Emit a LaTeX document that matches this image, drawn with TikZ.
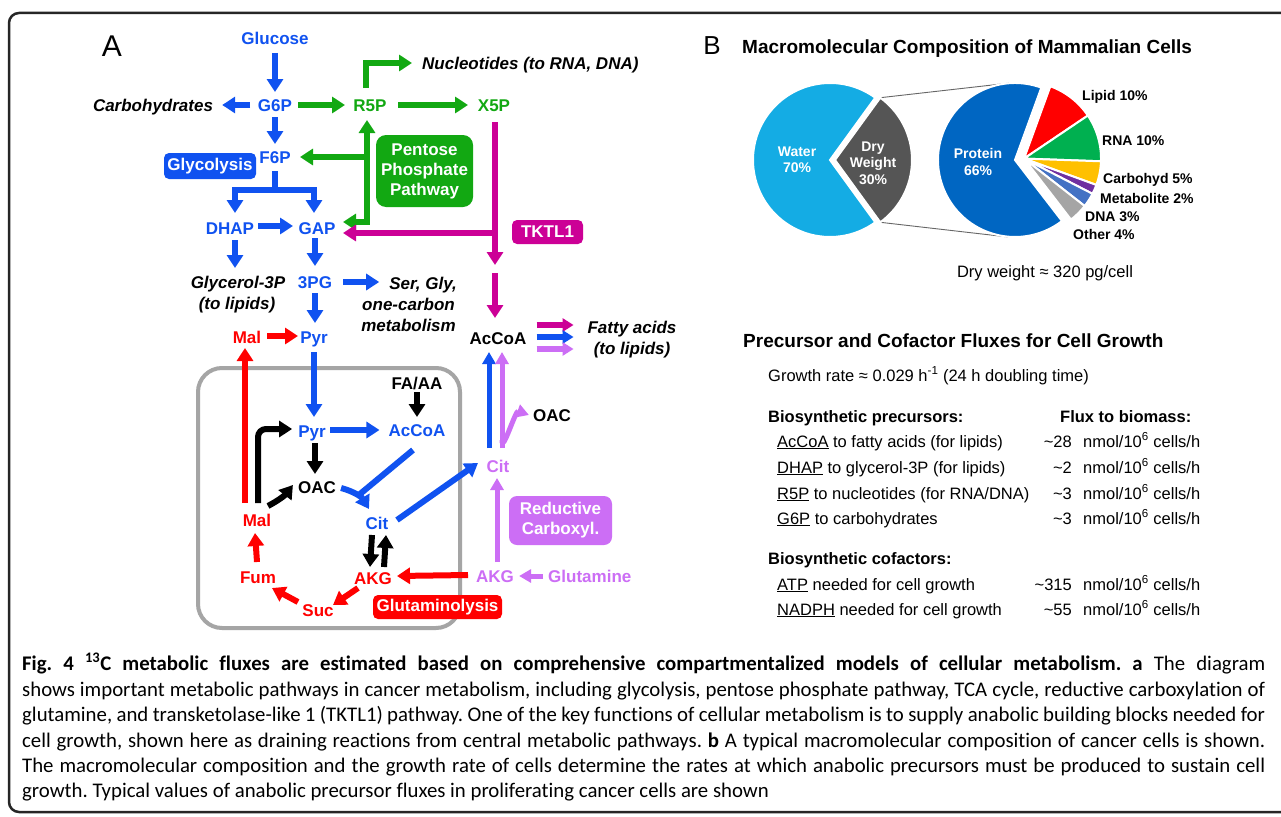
\documentclass[tikz,border=0pt]{standalone}
\usepackage{fontspec}
\setmainfont{Liberation Sans}
\newfontfamily\capfont[Ligatures=NoCommon]{Carlito}
\usetikzlibrary{arrows.meta,calc}
\definecolor{cblue}{RGB}{16,82,240}
\definecolor{cgreen}{RGB}{18,168,18}
\definecolor{cmag}{RGB}{204,0,150}
\definecolor{cred}{RGB}{255,0,0}
\definecolor{cpur}{RGB}{204,110,245}
\definecolor{cgray}{RGB}{165,165,165}
\definecolor{water}{RGB}{20,172,228}
\definecolor{dry}{RGB}{85,85,85}
\definecolor{prot}{RGB}{0,102,194}
\definecolor{rna}{RGB}{0,176,80}
\definecolor{carbc}{RGB}{255,192,0}
\definecolor{metab}{RGB}{112,48,160}
\definecolor{dnac}{RGB}{68,114,196}
\definecolor{otherc}{RGB}{165,165,165}
\frenchspacing
\begin{document}
\begin{tikzpicture}[x=1pt,y=-1pt,
  lbl/.style={inner sep=0pt, font={\fontsize{17pt}{20pt}\selectfont\bfseries}, text height=12.3pt, text depth=0pt},
  itl/.style={inner sep=0pt, font={\fontsize{17pt}{20pt}\selectfont\bfseries\itshape}, text height=12.3pt, text depth=0pt},
  ar/.style={line width=6pt, -{Triangle[width=16pt,length=13pt]}},
  ar2/.style={line width=5pt, -{Triangle[width=13pt,length=12pt]}},
  ar3/.style={line width=6pt, -{Triangle[width=13pt,length=11pt]}},
  ln/.style={line width=6pt},
  pbox/.style={inner sep=0pt, rounded corners=5pt, text=white, font={\fontsize{17pt}{20pt}\selectfont\bfseries}, align=center},
  tx/.style={inner sep=0pt, anchor=base west, font={\fontsize{16.5pt}{19pt}\selectfont}},
  txb/.style={inner sep=0pt, anchor=base west, font={\fontsize{16.5pt}{19pt}\selectfont\bfseries}},
  val/.style={inner sep=0pt, anchor=base east, font={\fontsize{16.5pt}{19pt}\selectfont}},
  pl/.style={inner sep=0pt, anchor=base west, font={\fontsize{14pt}{16pt}\selectfont\bfseries}},
  pw/.style={inner sep=0pt, text=white, align=center, font={\fontsize{14pt}{16.5pt}\selectfont\bfseries}},
  captxt/.style={inner sep=0pt, anchor=base west, font={\capfont\fontsize{20.8pt}{24pt}\selectfont}},
  slice/.style={draw=white, line width=2pt}
]
\useasboundingbox (0,0) rectangle (1281,816);
\clip (0,0) rectangle (1281,816);
\fill[white] (0,0) rectangle (1281,816);
% outer frame
\draw[line width=2.5pt, rounded corners=10pt, black!85] (9,13) rectangle (1300,812);

% ---------- Panel A ----------
\node[inner sep=0pt, font={\fontsize{30pt}{30pt}\selectfont}] (lA) at (112,46) {A};
\draw[cgray, line width=4pt, rounded corners=24pt] (198,368) rectangle (460,628);

\node[lbl,text=cblue] (glc) at (275,38) {Glucose};
\node[lbl,text=cblue] (g6p) at (275,105) {G6P};
\node[itl] (carb) at (153,105) {Carbohydrates};
\node[lbl,text=cgreen] (r5p) at (370,105) {R5P};
\node[lbl,text=cgreen] (x5p) at (494,105) {X5P};
\node[itl,anchor=west] (nuc) at (422,63) {Nucleotides (to RNA, DNA)};
\node[lbl,text=cblue] (f6p) at (275,157) {F6P};
\node[pbox,fill=cblue,minimum width=92pt,minimum height=26pt] (glyb) at (210,166) {Glycolysis};
\node[pbox,fill=cgreen,minimum width=97pt,minimum height=72pt,rounded corners=10pt] (pppb) at (424.5,171) {Pentose\\Phosphate\\Pathway};
\node[lbl,text=cblue] (dhap) at (230,228) {DHAP};
\node[lbl,text=cblue] (gap) at (317,228) {GAP};
\node[pbox,fill=cmag,minimum width=71pt,minimum height=24pt] (tktb) at (547.5,232) {TKTL1};
\node[itl] (g3p) at (238,282) {Glycerol-3P};
\node[itl] (g3pb) at (237,303) {(to lipids)};
\node[lbl,text=cblue] (pg3) at (315,282) {3PG};
\node[itl,anchor=east] (ser1) at (457,283) {Ser, Gly,};
\node[itl,anchor=east] (ser2) at (455,304) {one-carbon};
\node[itl,anchor=east] (ser3) at (456,325) {metabolism};
\node[lbl,text=cred] (mal1) at (247,337) {Mal};
\node[lbl,text=cblue] (pyr1) at (314,337) {Pyr};
\node[lbl] (acoa1) at (498,338) {AcCoA};
\node[itl] (fa1) at (632,327) {Fatty acids};
\node[itl] (fa2) at (632,348) {(to lipids)};
\node[lbl] (faaa) at (417,383) {FA/AA};
\node[lbl,text=cblue] (pyr2) at (312,431) {Pyr};
\node[lbl,text=cblue] (acoa2) at (417,430) {AcCoA};
\node[lbl] (oac2) at (317,487) {OAC};
\node[lbl] (oac1) at (552,415) {OAC};
\node[lbl,text=cpur] (cit1) at (498,466) {Cit};
\node[pbox,fill=cpur,minimum width=103pt,minimum height=49pt,rounded corners=8pt] (redb) at (560.5,520.5) {Reductive\\Carboxyl.};
\node[lbl,text=cred] (mal2) at (257,520) {Mal};
\node[lbl,text=cblue] (cit2) at (377,523) {Cit};
\node[lbl,text=cred] (fum) at (258,577) {Fum};
\node[lbl,text=cred] (akg2) at (373,578) {AKG};
\node[lbl,text=cred] (suc) at (318,610) {Suc};
\node[lbl,text=cpur] (akg1) at (495,576) {AKG};
\node[lbl,text=cpur,anchor=west] (gln) at (548,576) {Glutamine};
\node[pbox,fill=cred,minimum width=129pt,minimum height=24pt] (glub) at (437.5,607) {Glutaminolysis};

% glycolysis arrows
\draw[ar,cblue] ($(glc)+(0,15)$) -- ($(g6p)+(0,-13)$);
\draw[ar,cblue] ($(g6p)+(-25,0)$) -- ($(carb.east)+(9,0)$);
\draw[ar,cblue] ($(g6p)+(0,12)$) -- ($(f6p)+(0,-13)$);
\coordinate (fsplit) at ($(f6p)+(0,33)$);
\draw[ln,cblue] ($(f6p)+(0,14)$) -- (fsplit);
\draw[ar,cblue] (fsplit) -| ($(dhap)+(5,-15)$);
\draw[ar,cblue] (fsplit) -| ($(gap)+(-3,-15)$);
\draw[ar,cblue] ($(dhap)+(28,-2)$) -- ($(gap)+(-24,-2)$);
\draw[ar,cblue] ($(dhap)+(5,12)$) -- ($(g3p)+(-3,-14)$);
\draw[ar,cblue] ($(gap)+(-2,10)$) -- ($(pg3)+(0,-16)$);
\draw[ar,cblue] ($(pg3)+(28,0)$) -- ($(ser1.west)+(-10,-1)$);
\draw[ar,cblue] ($(pg3)+(0,11)$) -- ($(pyr1)+(1,-14)$);
\draw[ar,cred] ($(mal1)+(20,-1)$) -- ($(pyr1)+(-16,-1)$);

% pentose phosphate arrows
\draw[ar,cgreen] ($(g6p)+(23,0)$) -- ($(r5p)+(-25,0)$);
\draw[ar,cgreen] ($(r5p)+(28,0)$) -- ($(x5p)+(-26,0)$);
\draw[ar,cgreen] ($(r5p)+(-4,-17)$) |- ($(nuc.west)+(-10,0)$);
\draw[line width=6pt,cgreen,{Triangle[width=16pt,length=13pt]}-{Triangle[width=16pt,length=13pt]}] ($(gap)+(26,-6)$) -| ($(r5p)+(-3,15)$);
\draw[ar,cgreen] ($(r5p)+(-3,52)$) -- ($(f6p)+(25,0)$);

% TKTL1 arrows
\draw[ar,cmag] ($(x5p)+(1,17)$) -- ($(x5p)+(1,160)$);
\draw[ar,cmag] ($(x5p)+(1,128)$) -- ($(gap)+(26,5)$);
\draw[ar,cmag] ($(acoa1)+(-3,-65)$) -- ($(acoa1)+(-3,-20)$);

% fatty acids
\draw[ar3,cmag] ($(acoa1.east)+(10,-13)$) -- ($(acoa1.east)+(47,-13)$);
\draw[ar3,cblue] ($(acoa1.east)+(10,-1)$) -- ($(acoa1.east)+(47,-1)$);
\draw[ar3,cpur] ($(acoa1.east)+(10,11)$) -- ($(acoa1.east)+(47,11)$);

% mitochondria
\draw[ar,cblue] ($(pyr1)+(0,15)$) -- ($(pyr2)+(2,-14)$);
\draw[ar] ($(faaa)+(0,9)$) -- ($(acoa2)+(0,-13)$);
\draw[ar,cblue] ($(pyr2)+(18,-1)$) -- ($(acoa2.west)+(-9,0)$);
\draw[ar] ($(pyr2)+(3,12)$) -- ($(oac2)+(-2,-13)$);
\draw[ar,rounded corners=8pt] ($(mal2)+(1,-17)$) |- ($(pyr2.west)+(-6,-2)$);
\draw[ar] ($(mal2)+(11,-14)$) to[bend right=12] ($(oac2.west)+(-5,-2)$);
\draw[ar,cred] ($(mal2)+(-12,-17)$) -- ($(mal1)+(-2,11)$);
\draw[ar,cblue] ($(oac2.east)+(5,1)$) to[bend left=22] ($(cit2)+(-8,-14)$);
\draw[ln,cblue] ($(acoa2)+(-4,20)$) -- ($(cit2)+(-17,-29)$);
\draw[ar,cblue] ($(cit2)+(20,-3)$) -- ($(cit1)+(-20,-3)$);
\draw[ar] ($(cit2)+(-5,12)$) -- ($(akg2)+(-3,-11)$);
\draw[ar] ($(akg2)+(11,-11)$) -- ($(cit2)+(9,12)$);
\draw[ar,cred] ($(akg2)+(-15,10)$) -- ($(suc)+(15,-5)$);
\draw[ar,cred] ($(suc)+(-20,-8)$) -- ($(fum)+(14,11)$);
\draw[ar,cred] ($(fum)+(-1,-15)$) -- ($(mal2)+(-2,13)$);
\draw[ar,cred] ($(akg1)+(-27,-1)$) -- ($(akg2)+(24,-2)$);

% reductive carboxylation
\draw[ar2,cblue] ($(cit1)+(-9,-18)$) -- ($(acoa1)+(-9,14)$);
\draw[ar2,cpur] ($(cit1)+(4,-18)$) -- ($(acoa1)+(4,14)$);
\draw[ar2,cpur] ($(cit1)+(4,-26)$) to[out=-90,in=160] ($(oac1.west)+(-4,0)$);
\draw[ar2,cpur] ($(akg1)+(2,-14)$) -- ($(cit1)+(-1,12)$);
\draw[ar2,cpur] ($(gln.west)+(-5,0)$) -- ($(akg1.east)+(5,0)$);

% ---------- Panel B ----------
\node[inner sep=0pt, font={\fontsize{26pt}{26pt}\selectfont}] (lB) at (712,46) {B};
\node[inner sep=0pt, anchor=base west, font={\fontsize{19pt}{22pt}\selectfont\bfseries}] (ttl1) at (742,53) {Macromolecular Composition of Mammalian Cells};

% pies
\coordinate (wc) at (830,160);
\coordinate (dc) at (835,160);
\coordinate (pc) at (1015,160);
\coordinate (oc) at (1024,158.6);
\draw[black!60, line width=0.9pt] ($(dc)+(-54:77)$) -- (1010,83);
\draw[black!60, line width=0.9pt] ($(dc)+(54:77)$) -- (1008,237);
\filldraw[slice,fill=water] (wc) -- ++(-54:77) arc[start angle=-54, end angle=-306, radius=77] -- cycle;
\filldraw[slice,fill=dry] (dc) -- ++(-54:77) arc[start angle=-54, end angle=54, radius=77] -- cycle;
\filldraw[slice,fill=prot] (pc) -- ++(-70:77) arc[start angle=-70, end angle=-307.6, radius=77] -- cycle;
\filldraw[slice,fill=cred] (oc) -- ++(-70:77) arc[start angle=-70, end angle=-34, radius=77] -- cycle;
\filldraw[slice,fill=rna] (oc) -- ++(-34:77) arc[start angle=-34, end angle=2, radius=77] -- cycle;
\filldraw[slice,fill=carbc] (oc) -- ++(2:77) arc[start angle=2, end angle=20, radius=77] -- cycle;
\filldraw[slice,fill=metab] (oc) -- ++(20:77) arc[start angle=20, end angle=27.2, radius=77] -- cycle;
\filldraw[slice,fill=dnac] (oc) -- ++(27.2:77) arc[start angle=27.2, end angle=38, radius=77] -- cycle;
\filldraw[slice,fill=otherc] (oc) -- ++(38:77) arc[start angle=38, end angle=52.4, radius=77] -- cycle;

\node[pw] (wl) at (797,160) {Water\\70\%};
\node[pw] (dl) at (873,163) {Dry\\Weight\\30\%};
\node[pw] (prl) at (978,162) {Protein\\66\%};
\node[pl] (l1) at (1082,100) {Lipid 10\%};
\node[pl] (l2) at (1102,145) {RNA 10\%};
\node[pl] (l3) at (1103,183) {Carbohyd 5\%};
\node[pl] (l4) at (1100,203) {Metabolite 2\%};
\node[pl] (l5) at (1085,221) {DNA 3\%};
\node[pl] (l6) at (1073,239) {Other 4\%};
\node[tx,anchor=base] (dw) at (1045,277) {Dry weight ≈ 320 pg/cell};

% table
\node[inner sep=0pt, anchor=base west, font={\fontsize{19pt}{22pt}\selectfont\bfseries}] (ttl2) at (743,347) {Precursor and Cofactor Fluxes for Cell Growth};
\node[tx] (gr) at (768,381) {Growth rate ≈ 0.029 h\textsuperscript{-1} (24 h doubling time)};
\node[txb] (bp) at (768,422) {Biosynthetic precursors:};
\node[txb] (fb) at (1060,422) {Flux to biomass:};
\node[tx] (r1) at (777,447) {\underline{AcCoA} to fatty acids (for lipids)};
\node[tx] (r2) at (777,473) {\underline{DHAP} to glycerol-3P (for lipids)};
\node[tx] (r3) at (777,499) {\underline{R5P} to nucleotides (for RNA/DNA)};
\node[tx] (r4) at (777,524) {\underline{G6P} to carbohydrates};
\node[val] (v1) at (1072,447) {\textasciitilde 28};
\node[val] (v2) at (1072,473) {\textasciitilde 2};
\node[val] (v3) at (1072,499) {\textasciitilde 3};
\node[val] (v4) at (1072,524) {\textasciitilde 3};
\node[tx] (u1) at (1083,447) {nmol/10\textsuperscript{6} cells/h};
\node[tx] (u2) at (1083,473) {nmol/10\textsuperscript{6} cells/h};
\node[tx] (u3) at (1083,499) {nmol/10\textsuperscript{6} cells/h};
\node[tx] (u4) at (1083,524) {nmol/10\textsuperscript{6} cells/h};
\node[txb] (bc) at (768,564) {Biosynthetic cofactors:};
\node[tx] (r5) at (777,590) {\underline{ATP} needed for cell growth};
\node[tx] (r6) at (777,615) {\underline{NADPH} needed for cell growth};
\node[val] (v5) at (1072,590) {\textasciitilde 315};
\node[val] (v6) at (1072,615) {\textasciitilde 55};
\node[tx] (u5) at (1083,590) {nmol/10\textsuperscript{6} cells/h};
\node[tx] (u6) at (1083,615) {nmol/10\textsuperscript{6} cells/h};

% caption
\node[captxt] (c1) at (22,670) {\makebox[1243pt][s]{\textbf{Fig. 4 \textsuperscript{13}C metabolic fluxes are estimated based on comprehensive compartmentalized models of cellular metabolism. a} The diagram}};
\node[captxt] (c2) at (22,696) {\makebox[1243pt][s]{shows important metabolic pathways in cancer metabolism, including glycolysis, pentose phosphate pathway, TCA cycle, reductive carboxylation of}};
\node[captxt] (c3) at (22,721) {\makebox[1243pt][s]{glutamine, and transketolase-like 1 (TKTL1) pathway. One of the key functions of cellular metabolism is to supply anabolic building blocks needed for}};
\node[captxt] (c4) at (22,747) {\makebox[1243pt][s]{cell growth, shown here as draining reactions from central metabolic pathways. \textbf{b} A typical macromolecular composition of cancer cells is shown.}};
\node[captxt] (c5) at (22,772) {\makebox[1243pt][s]{The macromolecular composition and the growth rate of cells determine the rates at which anabolic precursors must be produced to sustain cell}};
\node[captxt] (c6) at (22,797) {growth. Typical values of anabolic precursor fluxes in proliferating cancer cells are shown};
\end{tikzpicture}
\end{document}
